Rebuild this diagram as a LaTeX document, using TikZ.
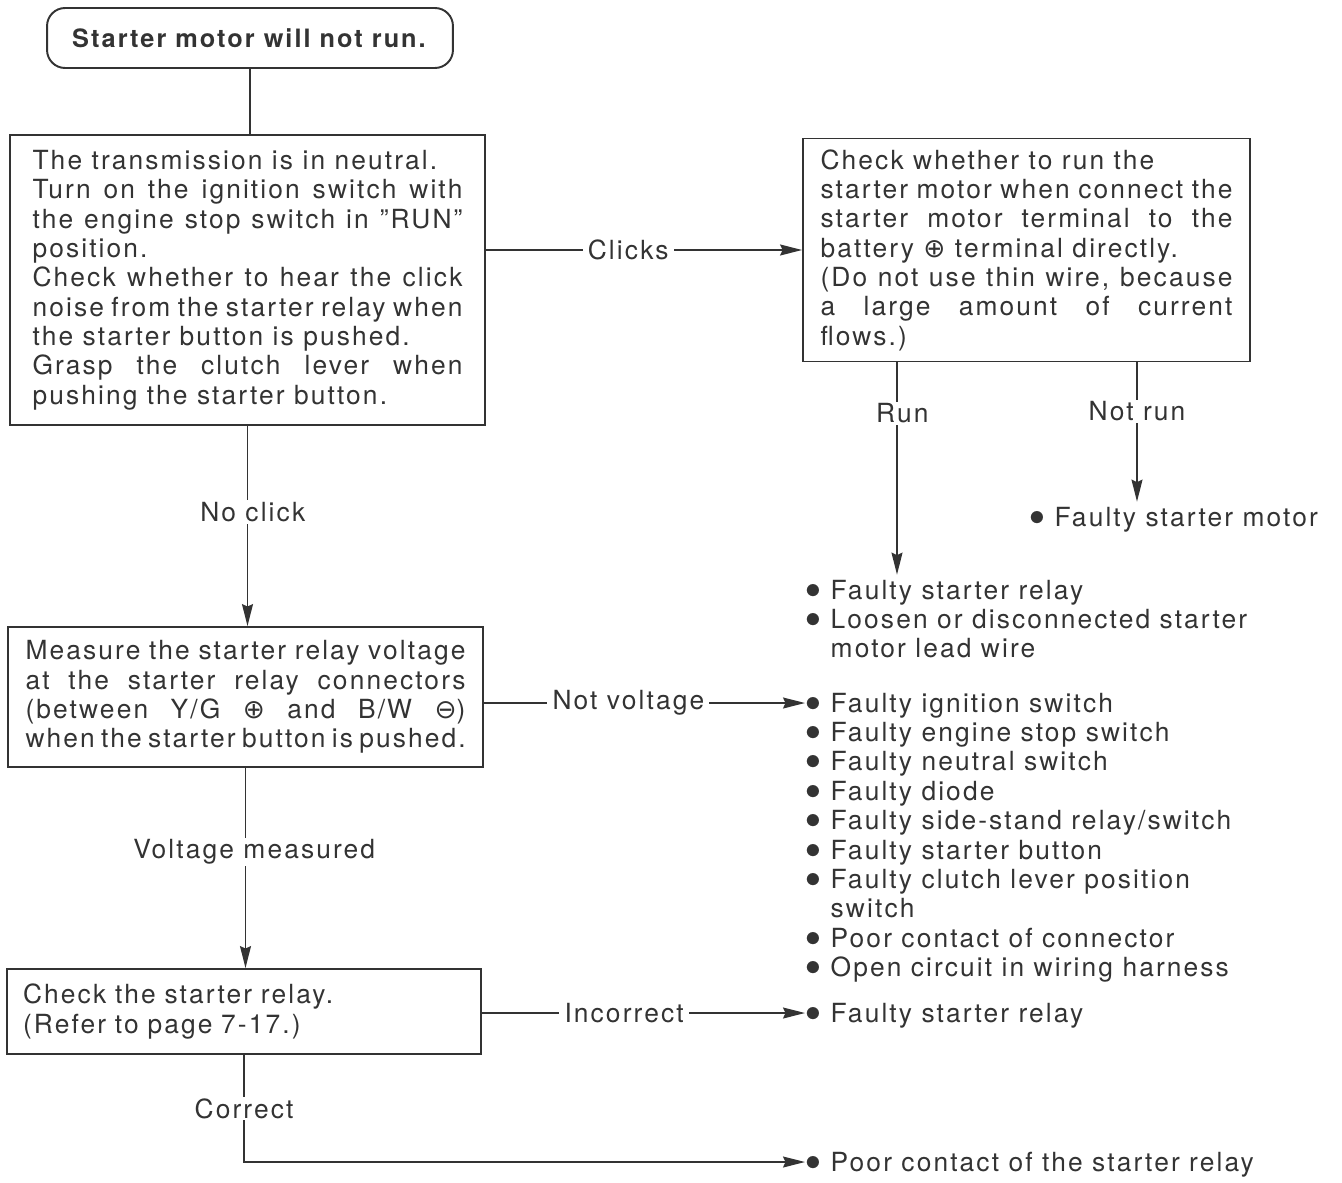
\documentclass[tikz,border=0pt]{standalone}
\usepackage{fontspec}
\usepackage{graphicx}
\setmainfont{TeX Gyre Heros}[LetterSpace=8.0]
\newfontfamily\symfont{DejaVu Sans}
\usetikzlibrary{arrows.meta,positioning}
\definecolor{ink}{HTML}{333333}
\newcommand{\bul}{\makebox[0.5cm][l]{\raisebox{0.02cm}{\scalebox{1.25}{$\bullet$}}}}
\newcommand{\ind}{\hspace*{0.5cm}}
\newcommand{\pls}{{\symfont ⊕}}
\newcommand{\mns}{{\symfont ⊖}}

\begin{document}
\begin{tikzpicture}[x=0.02cm, y=-0.02cm, color=ink, line width=0.8pt,
  font=\fontsize{15pt}{16.7pt}\selectfont,
  box/.style={draw, line width=1.1pt, align=justify, inner ysep=2pt},
  lbl/.style={fill=white, inner xsep=3pt, inner ysep=1pt},
  entry/.style={anchor=west, inner sep=0pt, text height=0.474cm, text depth=0.114cm},
  arr/.style={-{Stealth[length=0.44cm,width=0.22cm,inset=0.05cm]}}]
  \useasboundingbox (0,0) rectangle (1342,1183);
  % boxes of the left column
  \node[draw, rounded corners=0.36cm, line width=1.1pt, minimum width=8.12cm,
        minimum height=1.2cm, font=\fontsize{14.4pt}{16.7pt}\selectfont] (title) at (250,38)
    {\textbf{Starter motor will not run.}};
  \node[box, text width=8.6cm, inner xsep=0.45cm, minimum height=5.8cm] (check) at (247.5,280)
    {The transmission is in neutral.\par
     Turn on the ignition switch with\linebreak
     the engine stop switch in ''RUN''\linebreak
     position.\par
     Check whether to hear the click\linebreak
     noise from the starter relay when\linebreak
     the starter button is pushed.\par
     Grasp the clutch lever when\linebreak
     pushing the starter button.};
  \node[box, text width=8.8cm, inner xsep=0.35cm, minimum height=2.8cm] (measure) at (245.5,697)
    {Measure the starter relay voltage\linebreak
     at the starter relay connectors\linebreak
     (between Y/G \pls{} and B/W \mns)\linebreak
     when the starter button is pushed.};
  \node[box, align=left, text width=8.84cm, inner xsep=0.32cm, minimum height=1.7cm] (relaychk) at (244,1011.5)
    {Check the starter relay.\\(Refer to page 7-17.)};
  % box of the right column
  \node[box, text width=8.24cm, inner xsep=0.35cm, minimum height=4.46cm] (cmd) at (1026.5,250)
    {Check whether to run the\par
     starter motor when connect the\linebreak
     starter motor terminal to the\linebreak
     battery \pls{} terminal directly.\par
     (Do not use thin wire, because\linebreak
     a large amount of current\linebreak
     flows.)};
  % results
  \node[entry] (motor) at (1029,517) {\bul Faulty starter motor};
  \node[entry] (rel0) at (805,590) {\bul Faulty starter relay};
  \node[entry] (rel1) at (805,619.4) {\bul Loosen or disconnected starter};
  \node[entry] (rel2) at (805,648.8) {\ind motor lead wire};
  \foreach \txt [count=\k from 0] in {{\bul Faulty ignition switch},
      {\bul Faulty engine stop switch}, {\bul Faulty neutral switch},
      {\bul Faulty diode}, {\bul Faulty side-stand relay/switch},
      {\bul Faulty starter button}, {\bul Faulty clutch lever position},
      {\ind switch}, {\bul Poor contact of connector},
      {\bul Open circuit in wiring harness}}{
    \pgfmathsetmacro{\yy}{703+29.4*\k}
    \node[entry] (nv\k) at (805,\yy) {\txt};
  }
  \node[entry] (bad) at (805,1013) {\bul Faulty starter relay};
  \node[entry] (poor) at (805,1162) {\bul Poor contact of the starter relay};
  % connectors
  \coordinate (runx) at (897,0);
  \coordinate (notrunx) at (1137,0);
  \draw (title) -- (title |- check.north);
  \draw[arr] (check.east |- cmd.west) -- node[lbl, pos=0.45] {Clicks} (cmd.west);
  \draw[arr] (cmd.south -| runx) -- node[lbl, pos=0.24, xshift=3pt] {Run} (rel0.north -| runx);
  \draw[arr] (cmd.south -| notrunx) -- node[lbl, pos=0.35] {Not run} (motor.north -| notrunx);
  \draw[arr] (check) -- node[lbl, pos=0.43, xshift=3pt] {No click} (check.south |- measure.north);
  \draw[arr] (measure.east |- nv0.west) -- node[lbl, pos=0.45] {Not voltage} (nv0.west);
  \draw[arr] (measure) -- node[lbl, pos=0.42, xshift=5pt] {Voltage measured} (measure.south |- relaychk.north);
  \draw[arr] (relaychk.east |- bad.west) -- node[lbl, pos=0.44] {Incorrect} (bad.west);
  \draw[arr] (relaychk.south) |- node[lbl, pos=0.25] {Correct} (poor.west);
\end{tikzpicture}
\end{document}
